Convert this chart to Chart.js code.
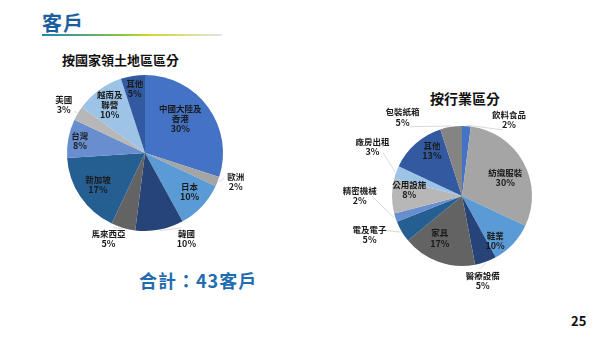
<!DOCTYPE html>
<html lang="zh-Hant">
<head>
  <meta charset="UTF-8" />
  <script src="https://cdn.jsdelivr.net/npm/chart.js"></script>
  <title>客戶</title>
  <style>
    * { padding: 0; margin: 0; }
    html, body { width: 600px; height: 337px; background: #ffffff; overflow: hidden; }
    body { position: relative; font-family: "Noto Sans CJK TC", "Noto Sans", sans-serif; color: #111; }
    .title { position: absolute; left: 42px; top: 8px; font-size: 20px; font-weight: bold; color: #1b5e9e; letter-spacing: 1px; }
    .underline { position: absolute; left: 42px; top: 34px; width: 180px; height: 2px;
      background: linear-gradient(to right, #1a86b8, #8cc63f 45%, #d6d62a 60%, #dfe6ea 100%); }
    .sub { position: absolute; font-weight: bold; color: #111; }
    .total { position: absolute; left: 139px; top: 267px; font-size: 18px; font-weight: bold; color: #1f6cb0; letter-spacing: 1px; }
    .page { position: absolute; left: 571px; top: 311px; font-size: 13px; font-weight: bold; color: #111; }
    .chart { position: absolute; top: 0; width: 300px; height: 337px; }
  </style>
</head>
<body>
  <div class="title">客戶</div>
  <div class="underline"></div>
  <div class="sub" style="left:62px;top:50px;font-size:13px;">按國家領土地區區分</div>
  <div class="sub" style="left:430px;top:88px;font-size:14px;">按行業區分</div>
  <div class="total">合計：43客戶</div>
  <div class="page">25</div>

  <div class="chart" style="left:0;"><canvas id="regionChart"></canvas></div>
  <div class="chart" style="left:300px;"><canvas id="industryChart"></canvas></div>

<script>
  // Data
  const regionLabels = [['中國大陸及', '香港'], ['歐洲'], ['日本'], ['韓國'], ['馬來西亞'], ['新加坡'], ['台灣'], ['美國'], ['越南及', '聯營'], ['其他']];
  const regionValues = [30, 2, 10, 10, 5, 17, 8, 3, 10, 5];

  const industryLabels = [['飲料食品'], ['紡織服裝'], ['鞋業'], ['醫療設備'], ['家具'], ['電及電子'], ['精密機械'], ['公用設施'], ['廠房出租'], ['其他'], ['包裝紙箱']];
  const industryValues = [2, 30, 10, 5, 17, 5, 2, 8, 3, 13, 5];

  const palette = ['#4472C4', '#A5A5A5', '#5B9BD5', '#264478', '#636363', '#255E91', '#698ED0', '#B7B7B7', '#9DC3E6', '#335AA1', '#848484'];

  // label placement: [radius factor, angle shift in degrees]
  const regionLabelPos = [[0.63, -8], [1.22, -4], [0.76, -2], [1.22, -15], [1.19, 7], [0.73, 0], [0.85, 0], [1.21, 0], [0.77, 0], [0.84, 0]];
  const industryLabelPos = [[1.28, 28], [0.67, 6], [0.79, 10], [1.24, 6], [0.68, 8], [1.43, 8], [1.46, 18], [0.76, 7], [1.46, 9], [0.78, 8], [1.41, -28]];

  // Draws the slice labels, with leader lines for the ones outside
  const sliceLabels = {
    id: 'sliceLabels',
    afterDatasetsDraw(chart, args, opts) {
      const ctx = chart.ctx;
      const ds = chart.data.datasets[0];
      const total = ds.data.reduce((a, b) => a + b, 0);
      chart.getDatasetMeta(0).data.forEach((arc, i) => {
        const pos = opts.pos[i];
        const mid = (arc.startAngle + arc.endAngle) / 2;
        const ang = mid + pos[1] * Math.PI / 180;
        const r = arc.outerRadius * pos[0];
        const x = arc.x + Math.cos(ang) * r;
        const y = arc.y + Math.sin(ang) * r;
        const lines = chart.data.labels[i].slice();
        lines.push(Math.round(ds.data[i] / total * 100) + '%');

        if (pos[0] > 1) {
          ctx.save();
          ctx.strokeStyle = '#cfcfcf';
          ctx.lineWidth = 0.8;
          ctx.beginPath();
          ctx.moveTo(arc.x + Math.cos(mid) * (arc.outerRadius + 1), arc.y + Math.sin(mid) * (arc.outerRadius + 1));
          const rr = r - 12;
          ctx.lineTo(arc.x + Math.cos(ang) * rr, arc.y + Math.sin(ang) * rr);
          ctx.stroke();
          ctx.restore();
        }

        ctx.save();
        ctx.fillStyle = '#1a1a1a';
        ctx.textAlign = 'center';
        ctx.textBaseline = 'middle';
        const lh = 10;
        const y0 = y - (lines.length - 1) * lh / 2;
        lines.forEach((t, k) => {
          const isPct = k === lines.length - 1;
          ctx.font = 'bold ' + (isPct ? 9 : 8.5) + 'px "Noto Sans CJK TC", sans-serif';
          ctx.fillText(t, x, y0 + k * lh);
        });
        ctx.restore();
      });
    }
  };

  function makePie(el, labels, values, pos, padding) {
    return new Chart(el, {
      type: 'pie',
      data: {
        labels: labels,
        datasets: [{
          data: values,
          backgroundColor: palette.slice(0, values.length),
          borderWidth: 0
        }]
      },
      options: {
        responsive: true,
        maintainAspectRatio: false,
        animation: false,
        layout: { padding: padding },
        plugins: {
          legend: { display: false },
          tooltip: { enabled: false },
          sliceLabels: { pos: pos }
        }
      },
      plugins: [sliceLabels]
    });
  }

  makePie(document.getElementById('regionChart'), regionLabels, regionValues, regionLabelPos,
    { left: 67, right: 77, top: 75, bottom: 106 });
  makePie(document.getElementById('industryChart'), industryLabels, industryValues, industryLabelPos,
    { left: 92, right: 68, top: 126, bottom: 71 });
</script>
</body>
</html>
